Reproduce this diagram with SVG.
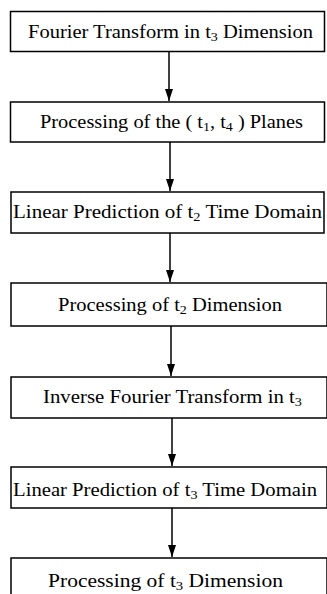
<svg xmlns="http://www.w3.org/2000/svg" width="327" height="594" viewBox="0 0 327 594">
<style>
.box{fill:#fff;stroke:#000;stroke-width:1.5}
.t{font-family:"Liberation Serif","Times New Roman",serif;font-size:19px;fill:#000}
.s{font-size:13px}
.c{stroke:#000;stroke-width:1.5;fill:none}
</style>
<defs>
<marker id="ah" markerWidth="12" markerHeight="8" refX="12" refY="4" orient="auto" markerUnits="userSpaceOnUse" viewBox="0 0 12 8">
<path d="M0,0 L12,4 L0,8 Z" fill="#000"/>
</marker>
</defs>
<rect width="327" height="594" fill="#fff"/>
<g id="connectors">
<line class="c" x1="169" y1="52" x2="169" y2="101" marker-end="url(#ah)"/>
<line class="c" x1="170" y1="142" x2="170" y2="191" marker-end="url(#ah)"/>
<line class="c" x1="170" y1="233" x2="170" y2="282" marker-end="url(#ah)"/>
<line class="c" x1="171" y1="326" x2="171" y2="376" marker-end="url(#ah)"/>
<line class="c" x1="172" y1="418" x2="172" y2="466" marker-end="url(#ah)"/>
<line class="c" x1="172" y1="508" x2="172" y2="557" marker-end="url(#ah)"/>
</g>
<g id="n1"><rect class="box" x="10.5" y="11.5" width="314" height="40"/>
<text class="t" x="28" y="37.5" textLength="285" lengthAdjust="spacingAndGlyphs">Fourier Transform in t<tspan class="s" dy="3">3</tspan><tspan dy="-3"> Dimension</tspan></text></g>
<g id="n2"><rect class="box" x="10.5" y="102" width="314" height="40"/>
<text class="t" x="40" y="128" textLength="263" lengthAdjust="spacingAndGlyphs">Processing of the ( t<tspan class="s" dy="3">1</tspan><tspan dy="-3">, t</tspan><tspan class="s" dy="3">4</tspan><tspan dy="-3"> ) Planes</tspan></text></g>
<g id="n3"><rect class="box" x="11" y="192" width="313" height="41"/>
<text class="t" x="13" y="218" textLength="309" lengthAdjust="spacingAndGlyphs">Linear Prediction of t<tspan class="s" dy="3">2</tspan><tspan dy="-3"> Time Domain</tspan></text></g>
<g id="n4"><rect class="box" x="11" y="283" width="316" height="43"/>
<text class="t" x="58" y="311" textLength="224" lengthAdjust="spacingAndGlyphs">Processing of t<tspan class="s" dy="3">2</tspan><tspan dy="-3"> Dimension</tspan></text></g>
<g id="n5"><rect class="box" x="11" y="377" width="316" height="41"/>
<text class="t" x="43" y="403" textLength="259" lengthAdjust="spacingAndGlyphs">Inverse Fourier Transform in t<tspan class="s" dy="3">3</tspan></text></g>
<g id="n6"><rect class="box" x="11" y="467" width="316" height="41"/>
<text class="t" x="13" y="496" textLength="304" lengthAdjust="spacingAndGlyphs">Linear Prediction of t<tspan class="s" dy="3">3</tspan><tspan dy="-3"> Time Domain</tspan></text></g>
<g id="n7"><rect class="box" x="11" y="558" width="316" height="45"/>
<text class="t" x="48" y="587" textLength="235" lengthAdjust="spacingAndGlyphs">Processing of t<tspan class="s" dy="3">3</tspan><tspan dy="-3"> Dimension</tspan></text></g>
</svg>
